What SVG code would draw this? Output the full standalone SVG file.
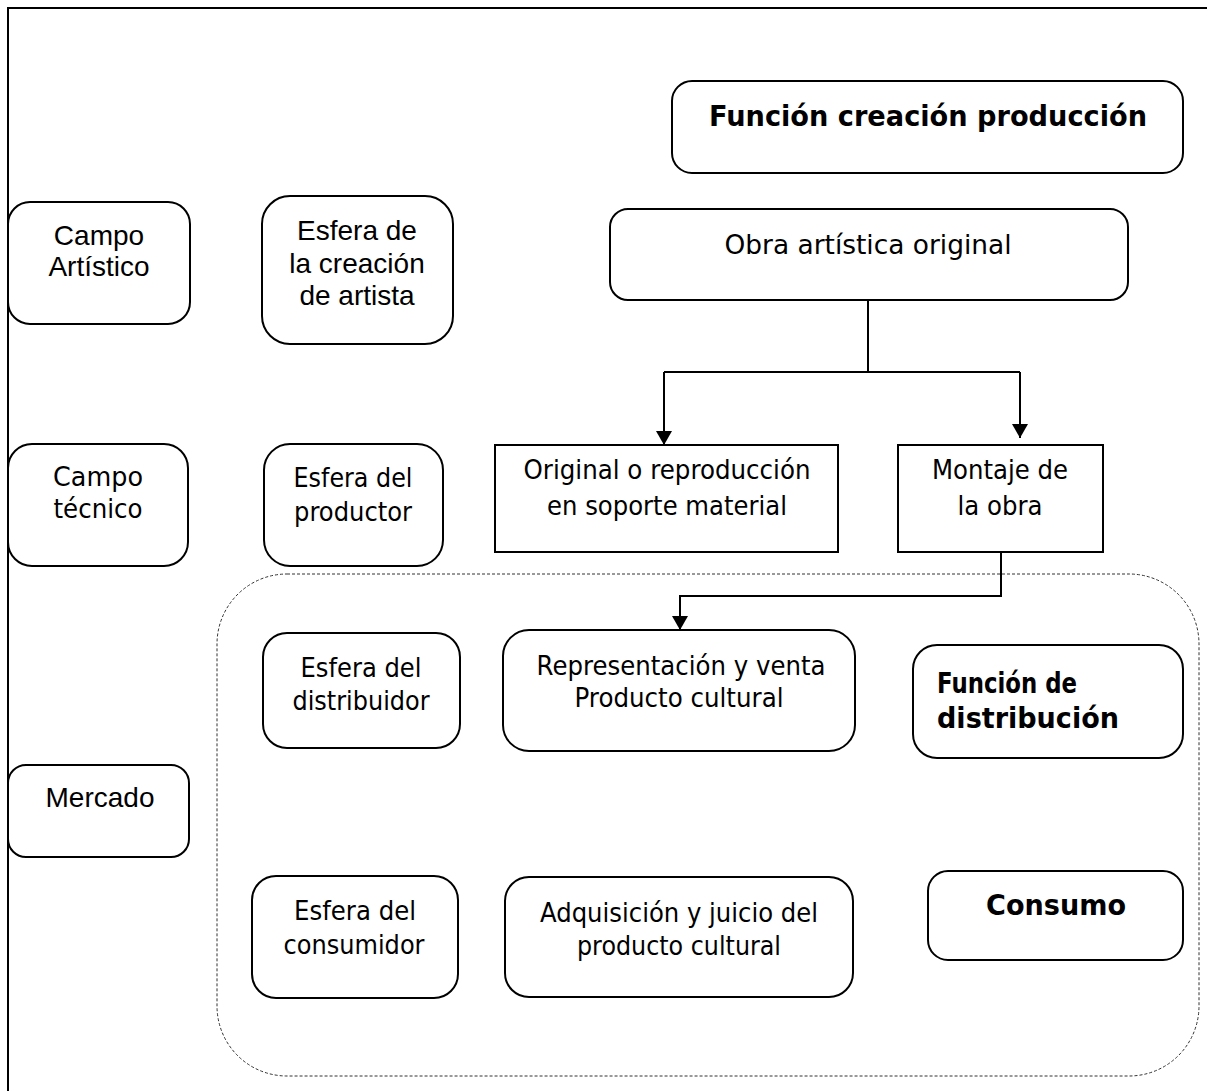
<svg xmlns="http://www.w3.org/2000/svg" width="1207" height="1091" viewBox="0 0 1207 1091">
<style>
.box{fill:#fff;stroke:#000;stroke-width:2}
.t{font-family:"DejaVu Sans","Liberation Sans",sans-serif;font-size:27px;fill:#000;text-anchor:middle}
.a{font-family:"Liberation Sans",Arial,sans-serif;font-size:28px;fill:#000;text-anchor:middle}
.b{font-weight:bold;font-size:29px}
.l{text-anchor:start}
.conn{fill:none;stroke:#000;stroke-width:2}
</style>
<defs>
<marker id="arrow" viewBox="0 0 14 16" refX="14" refY="8" markerWidth="14" markerHeight="16" orient="auto" markerUnits="userSpaceOnUse">
<path d="M0,0 L14,8 L0,16 z" fill="#000"/>
</marker>
</defs>
<rect width="1207" height="1091" fill="#fff"/>
<path d="M8,1091 V8 H1207" fill="none" stroke="#000" stroke-width="2"/>
<rect x="217" y="574" width="982" height="502" rx="70" ry="70" fill="none" stroke="#333" stroke-width="1" stroke-dasharray="3,2"/>

<g id="campo-artistico"><rect class="box" x="8" y="202" width="182" height="122" rx="22"/>
<text class="a" x="99" y="245">Campo</text><text class="a" x="99" y="276">Artístico</text></g>

<g id="esfera-creacion"><rect class="box" x="262" y="196" width="191" height="148" rx="28"/>
<text class="a" x="357" y="240">Esfera de</text><text class="a" x="357" y="273">la creación</text><text class="a" x="357" y="305">de artista</text></g>

<g id="funcion-creacion"><rect class="box" x="672" y="81" width="511" height="92" rx="20"/>
<text class="t b" x="928" y="126" textLength="438" lengthAdjust="spacingAndGlyphs">Función creación producción</text></g>

<g id="obra-original"><rect class="box" x="610" y="209" width="518" height="91" rx="18"/>
<text class="t" x="868" y="254" textLength="287" lengthAdjust="spacingAndGlyphs">Obra artística original</text></g>

<g id="campo-tecnico"><rect class="box" x="8" y="444" width="180" height="122" rx="24"/>
<text class="t" x="98" y="486" textLength="90" lengthAdjust="spacingAndGlyphs">Campo</text><text class="t" x="98" y="518" textLength="89" lengthAdjust="spacingAndGlyphs">técnico</text></g>

<g id="esfera-productor"><rect class="box" x="264" y="444" width="179" height="122" rx="26"/>
<text class="t" x="353" y="487" textLength="119" lengthAdjust="spacingAndGlyphs">Esfera del</text><text class="t" x="353" y="521" textLength="118" lengthAdjust="spacingAndGlyphs">productor</text></g>

<g id="original-reproduccion"><rect class="box" x="495" y="445" width="343" height="107"/>
<text class="t" x="667" y="479" textLength="287" lengthAdjust="spacingAndGlyphs">Original o reproducción</text><text class="t" x="667" y="515" textLength="240" lengthAdjust="spacingAndGlyphs">en soporte material</text></g>

<g id="montaje"><rect class="box" x="898" y="445" width="205" height="107"/>
<text class="t" x="1000" y="479" textLength="136" lengthAdjust="spacingAndGlyphs">Montaje de</text><text class="t" x="1000" y="515" textLength="85" lengthAdjust="spacingAndGlyphs">la obra</text></g>

<g id="esfera-distribuidor"><rect class="box" x="263" y="633" width="197" height="115" rx="24"/>
<text class="t" x="361" y="677" textLength="121" lengthAdjust="spacingAndGlyphs">Esfera del</text><text class="t" x="361" y="710" textLength="137" lengthAdjust="spacingAndGlyphs">distribuidor</text></g>

<g id="representacion"><rect class="box" x="503" y="630" width="352" height="121" rx="26"/>
<text class="t" x="681" y="675" textLength="289" lengthAdjust="spacingAndGlyphs">Representación y venta</text><text class="t" x="679" y="707" textLength="209" lengthAdjust="spacingAndGlyphs">Producto cultural</text></g>

<g id="funcion-distribucion"><rect class="box" x="913" y="645" width="270" height="113" rx="24"/>
<text class="t b l" x="937" y="693" textLength="140" lengthAdjust="spacingAndGlyphs">Función de</text><text class="t b l" x="937" y="728" textLength="182" lengthAdjust="spacingAndGlyphs">distribución</text></g>

<g id="mercado"><rect class="box" x="8" y="765" width="181" height="92" rx="18"/>
<text class="a" x="100" y="807">Mercado</text></g>

<g id="esfera-consumidor"><rect class="box" x="252" y="876" width="206" height="122" rx="24"/>
<text class="t" x="355" y="920" textLength="122" lengthAdjust="spacingAndGlyphs">Esfera del</text><text class="t" x="354" y="954" textLength="141" lengthAdjust="spacingAndGlyphs">consumidor</text></g>

<g id="adquisicion"><rect class="box" x="505" y="877" width="348" height="120" rx="24"/>
<text class="t" x="679" y="922" textLength="278" lengthAdjust="spacingAndGlyphs">Adquisición y juicio del</text><text class="t" x="679" y="955" textLength="204" lengthAdjust="spacingAndGlyphs">producto cultural</text></g>

<g id="consumo"><rect class="box" x="928" y="871" width="255" height="89" rx="20"/>
<text class="t b" x="1056" y="915" textLength="140" lengthAdjust="spacingAndGlyphs">Consumo</text></g>

<g id="connectors">
<path class="conn" d="M868,300 V372 M664,372 H1020"/>
<path class="conn" d="M664,372 V445" marker-end="url(#arrow)"/>
<path class="conn" d="M1020,372 V438" marker-end="url(#arrow)"/>
<path class="conn" d="M1001,552 V596 H680 V630" marker-end="url(#arrow)"/>
</g>
</svg>
